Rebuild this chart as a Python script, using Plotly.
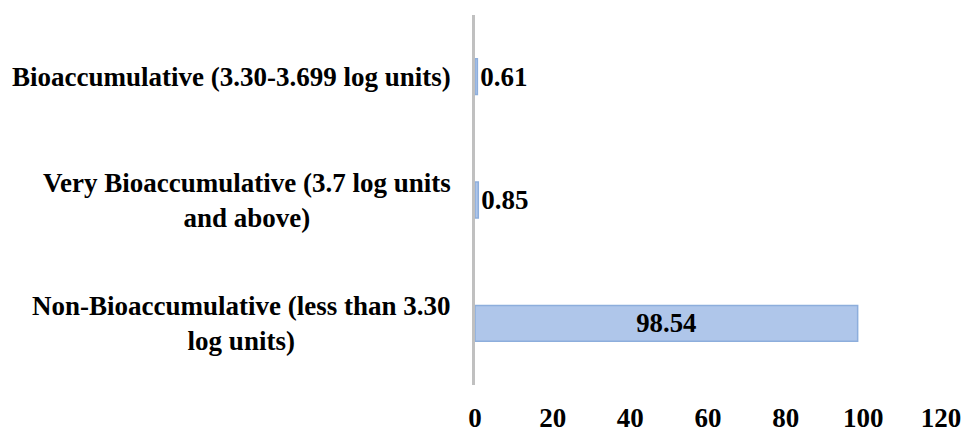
import plotly.graph_objects as go

# Share of compounds in each bioaccumulation class (%)
categories = [
    "Non-Bioaccumulative (less than 3.30<br>log units)",
    "Very Bioaccumulative (3.7 log units<br>and above)",
    "Bioaccumulative (3.30-3.699 log units)",
]
values = [98.54, 0.85, 0.61]
label_positions = ["inside", "outside", "outside"]

x_ticks = [0, 20, 40, 60, 80, 100, 120]

FONT = "Liberation Serif, Times New Roman, serif"
value_font = dict(family=FONT, size=27, color="#000000")

fig = go.Figure()
fig.add_trace(go.Bar(
    y=list(range(len(categories))),
    x=values,
    orientation="h",
    marker=dict(color="#AFC6EA", line=dict(color="#8DAEDC", width=1.5)),
    text=[f"<b>{v:.2f}</b>" for v in values],
    textposition=label_positions,
    insidetextanchor="middle",
    textfont=value_font,
    insidetextfont=value_font,
    outsidetextfont=value_font,
    cliponaxis=False,
    width=0.29,
))

# Category labels, centred line by line, to the left of the axis
for i, name in enumerate(categories):
    fig.add_annotation(
        x=0, xref="x", xanchor="right", xshift=-22,
        y=i, yref="y", yanchor="middle",
        text=f"<b>{name}</b>", showarrow=False, align="center",
        font=dict(family=FONT, size=27, color="#000000"),
    )

fig.update_layout(
    width=968, height=436,
    margin=dict(l=475, r=27, t=15, b=51, autoexpand=False),
    paper_bgcolor="white", plot_bgcolor="white",
    showlegend=False,
    font=dict(family=FONT, color="#000000"),
    uniformtext=dict(mode=False),
)
fig.update_xaxes(
    range=[0, 120], tickvals=x_ticks, ticktext=[f"<b>{t}</b>" for t in x_ticks],
    showgrid=False, zeroline=False, showline=False, ticks="",
    tickfont=dict(family=FONT, size=27, color="#000000"),
    ticklabelstandoff=14, automargin=False,
)
fig.update_yaxes(
    range=[-0.5, 2.5], showticklabels=False, showgrid=False, zeroline=False,
    showline=True, linecolor="#C0C0C0", linewidth=3, ticks="", automargin=False,
)

fig.write_html("out.html")
